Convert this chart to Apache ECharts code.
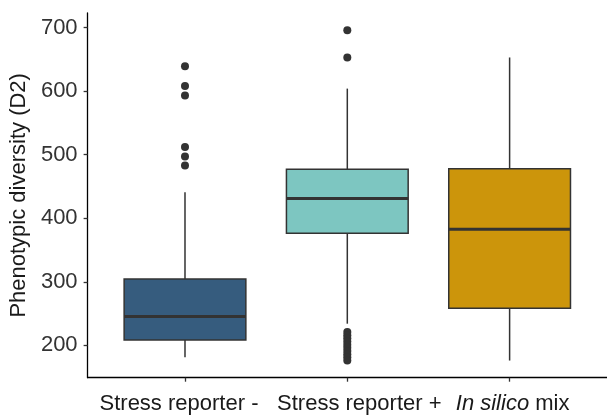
<!DOCTYPE html>
<html>
<head>
<meta charset="utf-8">
<script src="https://cdn.jsdelivr.net/npm/echarts@6/dist/echarts.min.js"></script>
<style>
html,body{margin:0;padding:0;background:#fff;}
#c{width:607px;height:415px;}
</style>
</head>
<body>
<div id="c"></div>
<script>
const categories = ['Stress reporter -', 'Stress reporter +', 'In silico mix'];
const whiskerLow = [181, 234, 176];
const q1 = [208.5, 376.5, 258.5];
const median = [245.5, 431, 382.5];
const q3 = [304.5, 477, 478];
const whiskerHigh = [441, 604, 653];
const outliers1 = [639, 608, 593, 512, 497, 483];
const outliers2 = [696, 653, 221, 216, 211, 206, 201, 196, 191, 186, 181, 176];
const outliers3 = [];
const yTicks = [200, 300, 400, 500, 600, 700];
const colors = ['#365c7e', '#7dc6c1', '#cc950b'];

const boxData = categories.map((c, i) => [i + 1, whiskerLow[i], q1[i], median[i], q3[i], whiskerHigh[i]]);
const outlierData = [];
[outliers1, outliers2, outliers3].forEach((arr, i) => arr.forEach(v => outlierData.push([i + 1, v])));

const chart = echarts.init(document.getElementById('c'), null, {renderer: 'canvas'});
const fontFamily = '"Liberation Sans", Arial, sans-serif';
const fs = 22;
const txt = '#1a1a1a';
chart.setOption({
  animation: false,
  backgroundColor: '#fff',
  grid: {left: 83, top: 13, width: 526, height: 364.7, containLabel: false},
  xAxis: {
    type: 'value', min: 0.4, max: 3.6,
    splitLine: {show: false},
    axisLine: {onZero: false, lineStyle: {color: '#000', width: 1.3}},
    axisTick: {show: true, customValues: [1, 2, 3], length: 4, lineStyle: {color: '#333', width: 1.3}},
    axisLabel: {
      customValues: [1, 2, 3],
      margin: 15,
      color: txt,
      fontSize: fs,
      fontFamily: fontFamily,
      formatter: function (v) {
        const k = Math.round(v);
        const name = categories[k - 1] || '';
        if (name.indexOf('In silico') === 0) {
          return '{i|In silico}{n|' + name.slice(9) + '}';
        }
        return '{n' + k + '|' + name + '}';
      },
      rich: {
        i: {fontStyle: 'italic', fontSize: fs, fontFamily: fontFamily, color: txt, padding: [0, 0, 0, 6]},
        n: {fontSize: fs, fontFamily: fontFamily, color: txt},
        n1: {fontSize: fs, fontFamily: fontFamily, color: txt, padding: [0, 12, 0, 0]},
        n2: {fontSize: fs, fontFamily: fontFamily, color: txt, padding: [0, 0, 0, 24]}
      }
    }
  },
  yAxis: {
    type: 'value', min: 149, max: 723,
    name: 'Phenotypic diversity (D2)',
    nameLocation: 'middle',
    nameGap: 49,
    nameTextStyle: {fontSize: fs, color: txt, fontFamily: fontFamily},
    splitLine: {show: false},
    axisLine: {show: true, lineStyle: {color: '#000', width: 1.3}},
    axisTick: {show: true, customValues: yTicks, length: 4, lineStyle: {color: '#333', width: 1.3}},
    axisLabel: {customValues: yTicks, margin: 10, color: '#333', fontSize: fs, fontFamily: fontFamily}
  },
  series: [
    {
      type: 'custom',
      data: boxData,
      encode: {x: 0, y: [1, 2, 3, 4, 5]},
      renderItem: function (params, api) {
        const x = api.value(0);
        const lo = api.value(1), a = api.value(2), m = api.value(3), b = api.value(4), hi = api.value(5);
        const hw = api.size([0.375, 0])[0];
        const pLo = api.coord([x, lo]);
        const pA = api.coord([x, a]);
        const pM = api.coord([x, m]);
        const pB = api.coord([x, b]);
        const pHi = api.coord([x, hi]);
        const stroke = '#333';
        const idx = params.dataIndex;
        return {
          type: 'group',
          children: [
            {type: 'line', shape: {x1: pHi[0], y1: pHi[1], x2: pB[0], y2: pB[1]}, style: {stroke: stroke, lineWidth: 1.5}},
            {type: 'line', shape: {x1: pA[0], y1: pA[1], x2: pLo[0], y2: pLo[1]}, style: {stroke: stroke, lineWidth: 1.5}},
            {type: 'rect', shape: {x: pB[0] - hw, y: pB[1], width: 2 * hw, height: pA[1] - pB[1]}, style: {fill: colors[idx], stroke: stroke, lineWidth: 1.5}},
            {type: 'line', shape: {x1: pM[0] - hw, y1: pM[1], x2: pM[0] + hw, y2: pM[1]}, style: {stroke: stroke, lineWidth: 3}}
          ]
        };
      }
    },
    {
      type: 'scatter',
      data: outlierData,
      symbol: 'circle',
      symbolSize: 8,
      itemStyle: {color: '#333', opacity: 1}
    }
  ]
});
</script>
</body>
</html>
